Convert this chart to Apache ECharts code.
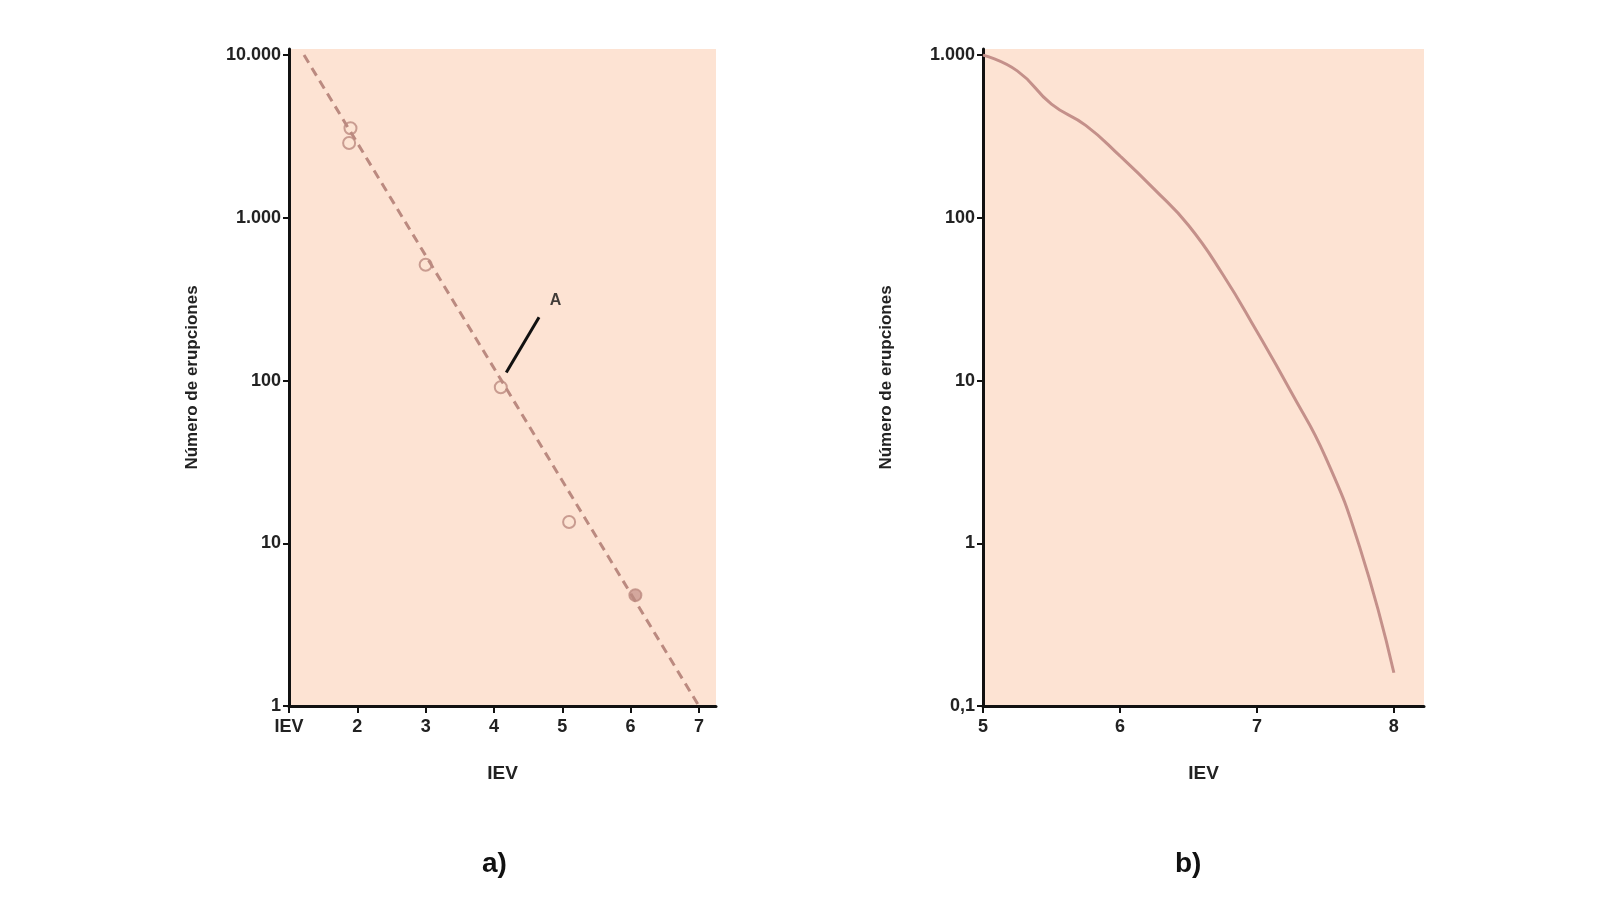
<!DOCTYPE html>
<html><head><meta charset="utf-8">
<script src="https://cdn.jsdelivr.net/npm/echarts@6/dist/echarts.min.js"></script>
<style>html,body{margin:0;background:#fff}#c{width:1600px;height:900px}</style>
</head><body><div id="c"></div>
<script>
// datos
var pointsA = [[1.9, 3550], [1.88, 2880], [3.0, 515], [4.1, 91], [5.1, 13.5]];
var pointFilledA = [[6.07, 4.8]];
var trendA = [[1.22, 10000], [7, 1]];
var leaderA = [[4.18, 112], [4.66, 245]];
var labelA = [[4.9, 310]];
var curveB = [[5, 1000], [5.25, 800], [5.5, 500], [5.75, 370], [6, 240], [6.25, 150],
  [6.5, 90], [6.75, 45], [7, 20], [7.25, 8.5], [7.5, 3.4], [7.75, 0.95], [8, 0.16]];

var txt = '#222', bg = '#fde3d3', mark = '#bb8a80';
var font = 'Liberation Sans, Arial, sans-serif';

function fmtNum(v) {
  if (v < 1) return String(v).replace('.', ',');
  return String(Math.round(v)).replace(/\B(?=(\d{3})+(?!\d))/g, '.');
}
function yAxis(idx, min, max) {
  return {
    gridIndex: idx, type: 'log', min: min, max: max, logBase: 10,
    name: 'Número de erupciones', nameLocation: 'middle', nameGap: 88, nameRotate: 90,
    nameTextStyle: {color: txt, fontWeight: 'bold', fontSize: 17, fontFamily: font},
    axisLine: {show: true, lineStyle: {color: '#111', width: 3}},
    axisTick: {show: true, length: 6, lineStyle: {color: '#111', width: 2}},
    splitLine: {show: false}, minorTick: {show: false},
    axisLabel: {color: txt, fontWeight: 'bold', fontSize: 18, fontFamily: font, formatter: fmtNum}
  };
}
function xAxis(idx, min, max, first) {
  return {
    gridIndex: idx, type: 'value', min: min, max: max, interval: 1,
    name: 'IEV', nameLocation: 'middle', nameGap: 58,
    nameTextStyle: {color: txt, fontWeight: 'bold', fontSize: 19, fontFamily: font},
    axisLine: {show: true, lineStyle: {color: '#111', width: 3}},
    axisTick: {show: true, length: 7, lineStyle: {color: '#111', width: 2}},
    splitLine: {show: false},
    axisLabel: {color: txt, fontWeight: 'bold', fontSize: 18, fontFamily: font, margin: 12,
      showMaxLabel: false,
      formatter: function (v) { return (first && v === min) ? 'IEV' : String(v); }}
  };
}

var chart = echarts.init(document.getElementById('c'));
chart.setOption({
  animation: false,
  grid: [
    {left: 289, top: 49, width: 427, height: 657, show: true, backgroundColor: bg, borderWidth: 0},
    {left: 983, top: 49, width: 441, height: 657, show: true, backgroundColor: bg, borderWidth: 0}
  ],
  xAxis: [xAxis(0, 1, 7.25, true), xAxis(1, 5, 8.22, false)],
  yAxis: [yAxis(0, 1, 10000 * 1.09), yAxis(1, 0.1, 1000 * 1.09)],
  series: [
    {type: 'line', xAxisIndex: 0, yAxisIndex: 0, data: trendA, symbol: 'none',
      lineStyle: {color: mark, width: 3, type: [9, 6]}},
    {type: 'scatter', xAxisIndex: 0, yAxisIndex: 0, data: pointsA, symbol: 'circle', symbolSize: 12,
      itemStyle: {color: bg, borderColor: mark, borderWidth: 2}},
    {type: 'scatter', xAxisIndex: 0, yAxisIndex: 0, data: pointFilledA, symbol: 'circle', symbolSize: 12,
      itemStyle: {color: '#c99790', borderColor: mark, borderWidth: 2}},
    {type: 'line', xAxisIndex: 0, yAxisIndex: 0, data: leaderA, symbol: 'none',
      lineStyle: {color: '#111', width: 3}},
    {type: 'scatter', xAxisIndex: 0, yAxisIndex: 0, data: labelA, symbolSize: 0,
      label: {show: true, formatter: 'A', color: '#111', fontWeight: 'bold', fontSize: 16, fontFamily: font}},
    {type: 'line', xAxisIndex: 1, yAxisIndex: 1, data: curveB, symbol: 'none', smooth: 0.5,
      lineStyle: {color: '#c4908a', width: 3}}
  ],
  graphic: [
    {type: 'text', left: 482, top: 850, style: {text: 'a)', fill: '#111', font: 'bold 28px ' + font}},
    {type: 'text', left: 1175, top: 850, style: {text: 'b)', fill: '#111', font: 'bold 28px ' + font}}
  ]
});
</script></body></html>
